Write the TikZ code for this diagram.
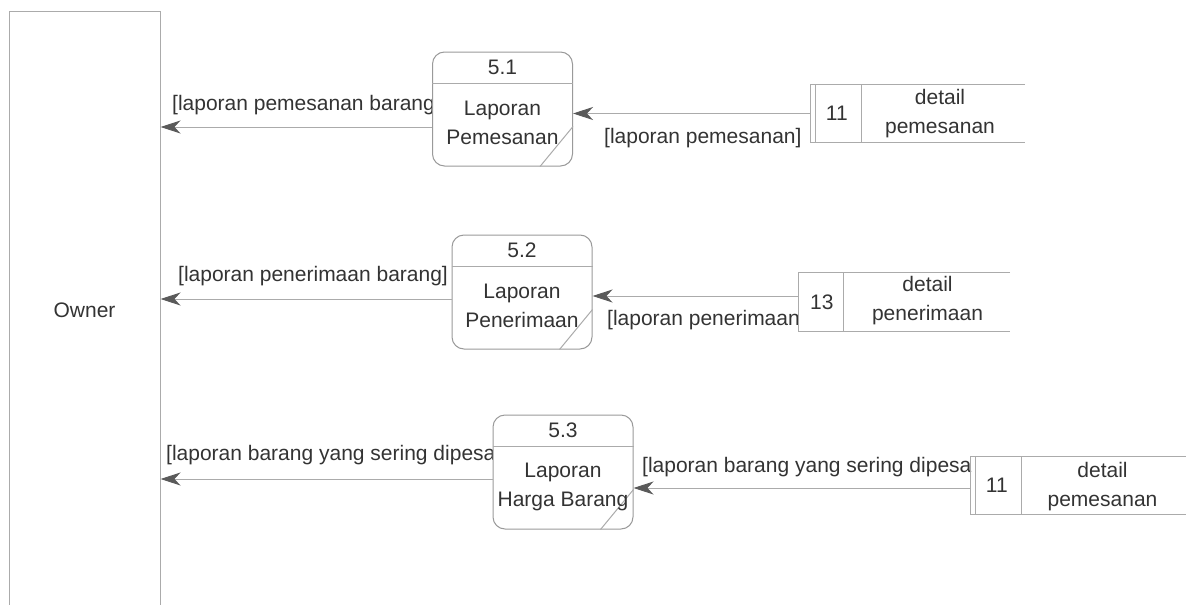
\documentclass[tikz,border=0pt]{standalone}
\usepackage{fontspec}
\setmainfont{Liberation Sans}
\usetikzlibrary{arrows.meta}
\usetikzlibrary{positioning}
\definecolor{linegray}{HTML}{ABABAB}
\definecolor{boxgray}{HTML}{9A9A9A}
\definecolor{textgray}{HTML}{333333}
\definecolor{tipgray}{HTML}{5A5A5A}

\begin{document}
\begin{tikzpicture}[
    x=1pt, y=-1pt,
    every node/.style={font=\fontsize{21}{29}\selectfont, text=textgray},
    entity/.style={rectangle, draw=linegray, line width=1pt, minimum width=151pt, minimum height=598pt, inner sep=0pt},
    process/.style={rectangle, rounded corners=12pt, draw=boxgray, line width=1pt, fill=white, minimum width=140pt, minimum height=114pt, inner sep=0pt},
    store/.style={rectangle, minimum height=57pt, inner sep=0pt},
    flowlabel/.style={anchor=west, inner sep=0pt},
    edge/.style={draw=linegray, line width=1pt},
    flow/.style={draw=linegray, line width=1pt, -{Stealth[length=20pt, width=13pt, inset=6pt, color=tipgray]}}
]
\useasboundingbox (0,0) rectangle (1186,605);
\clip (0,0) rectangle (1186,605);

% --- External entity ---
\node[entity] (owner) at (84.5,310) {Owner};

% --- Flow labels ---
\node[flowlabel] (l1out) at (172,105) {[laporan pemesanan barang};
\node[flowlabel] (l1in) at (604,138) {[laporan pemesanan]};
\node[flowlabel] (l2out) at (178,276) {[laporan penerimaan barang]};
\node[flowlabel] (l2in) at (607,320) {[laporan penerimaan};
\node[flowlabel] (l3out) at (166,455) {[laporan barang yang sering dipesa};
\node[flowlabel] (l3in) at (642,467) {[laporan barang yang sering dipesa};

% --- Processes ---
\node[process] (p1) at (502.5,109) {};
\node[process] (p2) at (522,292) {};
\node[process] (p3) at (563,472) {};

\foreach \p in {p1,p2,p3}
{
    \draw[edge] ([yshift=-32pt]\p.north west) -- ([yshift=-32pt]\p.north east);
    \draw[edge] ([xshift=-33pt]\p.south east) -- ([yshift=40pt]\p.south east);
}

\node (p1num) at ([yshift=-16pt]p1.north) {5.1};
\node (p2num) at ([yshift=-16pt]p2.north) {5.2};
\node (p3num) at ([yshift=-16pt]p3.north) {5.3};

\node[align=center] (p1txt) at ([yshift=-14pt]p1.center) {Laporan\\Pemesanan};
\node[align=center] (p2txt) at ([yshift=-14pt]p2.center) {Laporan\\Penerimaan};
\node[align=center] (p3txt) at ([yshift=-15pt]p3.center) {Laporan\\Harga Barang};

% --- Data stores ---
\node[store, minimum width=214pt] (s1) at (918,113.5) {};
\node[store, minimum width=211pt, minimum height=58pt] (s2) at (904.5,302) {};
\node[store, minimum width=215pt] (s3) at (1078.5,485.5) {};

\foreach \s in {s1,s2,s3}
    \draw[edge] (\s.north east) -- (\s.north west) -- (\s.south west) -- (\s.south east);

% duplicated stores get a second line
\draw[edge] ([xshift=5pt]s1.north west) -- ([xshift=5pt]s1.south west);
\draw[edge] ([xshift=5pt]s3.north west) -- ([xshift=5pt]s3.south west);

\draw[edge] ([xshift=51pt]s1.north west) -- ([xshift=51pt]s1.south west);
\draw[edge] ([xshift=45pt]s2.north west) -- ([xshift=45pt]s2.south west);
\draw[edge] ([xshift=51pt]s3.north west) -- ([xshift=51pt]s3.south west);

\node (s1num) at ([xshift=26pt]s1.west) {11};
\node (s2num) at ([xshift=23pt]s2.west) {13};
\node (s3num) at ([xshift=26pt]s3.west) {11};

\node[align=center] (s1txt) at ([xshift=22pt]s1.center) {detail\\pemesanan};
\node[align=center] (s2txt) at ([xshift=23pt, yshift=1pt]s2.center) {detail\\penerimaan};
\node[align=center] (s3txt) at ([xshift=24pt, yshift=-1pt]s3.center) {detail\\pemesanan};

% --- Flows from stores into processes ---
\coordinate (s1in) at (s1.west);
\coordinate (s2in) at ([yshift=6pt]s2.west);
\coordinate (s3in) at ([yshift=-2.5pt]s3.west);
\draw[flow] (s1in) -- (s1in -| p1.east);
\draw[flow] (s2in) -- (s2in -| p2.east);
\draw[flow] (s3in) -- (s3in -| p3.east);

% --- Flows from processes to owner ---
\coordinate (p1out) at ([yshift=-18pt]p1.west);
\coordinate (p2out) at ([yshift=-7pt]p2.west);
\coordinate (p3out) at ([yshift=-7pt]p3.west);
\draw[flow] (p1out) -- (p1out -| owner.east);
\draw[flow] (p2out) -- (p2out -| owner.east);
\draw[flow] (p3out) -- (p3out -| owner.east);

\end{tikzpicture}
\end{document}
